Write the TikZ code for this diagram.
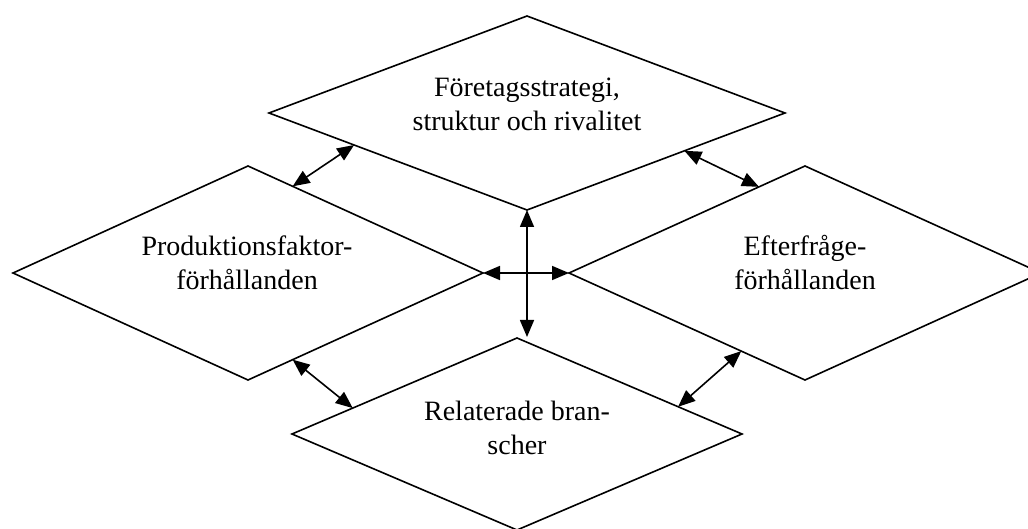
\documentclass[tikz,border=0pt]{standalone}
\usepackage{fontspec}
\setmainfont{Liberation Serif}
\usetikzlibrary{shapes.geometric,arrows.meta,calc}
\begin{document}
\begin{tikzpicture}[x=1pt,y=1pt,
  dia/.style={draw=black,line width=1.6pt,shape=diamond,inner sep=0pt,outer sep=0pt},
  lbl/.style={align=center,font=\fontsize{28}{34}\selectfont,inner sep=0pt},
  biarrow/.style={line width=1.6pt,{Triangle[length=17pt,width=14pt]}-{Triangle[length=17pt,width=14pt]}}]
\useasboundingbox (0,0) rectangle (1028,528);
\clip (0,0) rectangle (1028,528);
\node[dia,minimum width=516pt,minimum height=194pt] (top) at (527,415) {};
\node[dia,minimum width=470pt,minimum height=214pt] (left) at (248,255) {};
\node[dia,minimum width=472pt,minimum height=214pt] (right) at (805,255) {};
\node[dia,minimum width=450pt,minimum height=192pt] (bot) at (517,94) {};
\node[lbl] (ttop) at (527,424) {Företagsstrategi,\\struktur och rivalitet};
\node[lbl] (tleft) at (247,265) {Produktionsfaktor-\\förhållanden};
\node[lbl] (tright) at (805,266) {Efterfråge-\\förhållanden};
\node[lbl] (tbot) at (517,100) {Relaterade bran-\\scher};
\coordinate (a1s) at ($(left.north)!0.19!(left.east)$);
\coordinate (a1e) at ($(top.west)!0.33!(top.south)$);
\coordinate (a2s) at ($(top.south)!0.61!(top.east)$);
\coordinate (a2e) at ($(right.west)!0.805!(right.north)$);
\coordinate (a3s) at ($(left.east)!0.81!(left.south)$);
\coordinate (a3e) at ($(bot.west)!0.27!(bot.north)$);
\coordinate (a4s) at ($(right.west)!0.73!(right.south)$);
\coordinate (a4e) at ($(bot.north)!0.716!(bot.east)$);
\coordinate (vend) at ($(top.south |- bot.north)+(0,1)$);
\draw[biarrow] (a1s) -- (a1e);
\draw[biarrow] (a2s) -- (a2e);
\draw[biarrow] (a3s) -- (a3e);
\draw[biarrow] (a4s) -- (a4e);
\draw[biarrow] (top.south) -- (vend);
\draw[biarrow] (left.east) -- (right.west);
\end{tikzpicture}
\end{document}
